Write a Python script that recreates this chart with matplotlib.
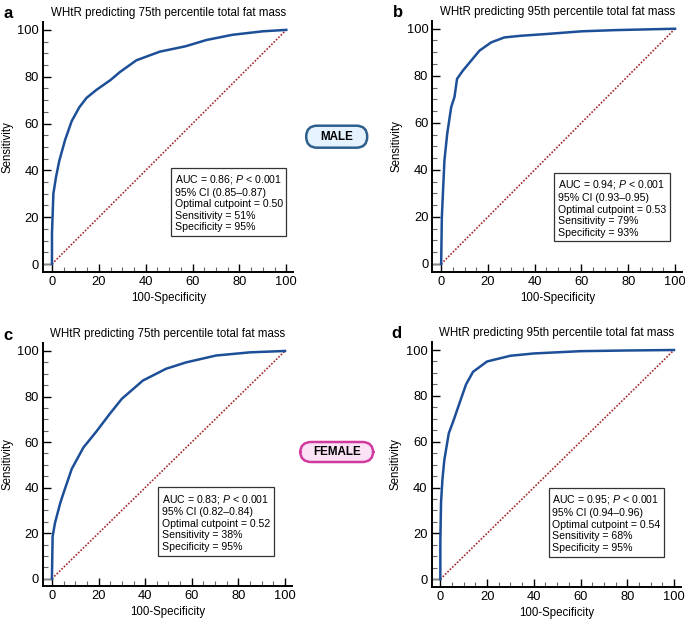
import matplotlib
matplotlib.use("Agg")
import matplotlib.pyplot as plt
from matplotlib.patches import FancyBboxPatch

plt.rcParams["font.family"] = ["Liberation Sans", "DejaVu Sans"]
plt.rcParams["mathtext.fontset"] = "custom"
plt.rcParams["mathtext.rm"] = "Liberation Sans"
plt.rcParams["mathtext.it"] = "Liberation Sans:italic"

# ROC curves: x = 100-Specificity, y = Sensitivity
a_x = [0, 0, 0.6, 1.7, 3.1, 5.6, 8.4, 11.7, 14.8, 19, 25, 29, 36, 46, 57, 66, 77, 90, 100]
a_y = [0, 13, 30, 37, 44, 53, 61, 67, 71, 74.4, 78.6, 82, 87, 90.7, 93, 95.7, 97.9, 99.4, 100]

b_x = [0, 0.3, 1.4, 2.6, 4.3, 5.7, 6.8, 9.3, 12.8, 16.4, 21.4, 27, 34, 45.6, 60, 74, 100]
b_y = [0, 20, 44, 55.4, 66.7, 71, 78.7, 82.2, 86.4, 90.7, 94.2, 96.3, 97, 97.8, 98.9, 99.4, 100]

c_x = [0, 0.3, 1.3, 3.5, 4.9, 8.5, 13.5, 19.2, 24.9, 30, 39, 49, 57.6, 70.4, 85, 100]
c_y = [0, 18.6, 24.4, 33, 37.4, 48.2, 57.6, 64.8, 72.5, 79, 87, 92.2, 95, 98, 99.4, 100]

d_x = [0, 0, 0.3, 0.9, 1.7, 3.6, 5.7, 8.6, 11, 14, 20, 30, 40, 60, 80, 100]
d_y = [0, 16.4, 33.6, 43.6, 52, 63.6, 69.4, 78, 85, 90.5, 95, 97.5, 98.5, 99.5, 99.8, 100]

titles = ["WHtR predicting 75th percentile total fat mass",
          "WHtR predicting 95th percentile total fat mass",
          "WHtR predicting 75th percentile total fat mass",
          "WHtR predicting 95th percentile total fat mass"]
panel_letters = ["a", "b", "c", "d"]
auc = ["0.86", "0.94", "0.83", "0.95"]
ci = ["0.85\u20130.87", "0.93\u20130.95", "0.82\u20130.84", "0.94\u20130.96"]
cutpoint = ["0.50", "0.53", "0.52", "0.54"]
sensitivity = [51, 79, 38, 68]
specificity = [95, 93, 95, 95]

W, H = 685, 624
fig = plt.figure(figsize=(W / 100, H / 100), dpi=100)

# axes boxes in pixels: left, top, right, bottom
boxes = [(43.3, 21.7, 293.3, 271.5), (432.5, 20.5, 682, 271.5),
         (43.3, 343, 292, 586), (431.7, 342, 681, 586.5)]
text_pos = [(50, 40.5), (47.5, 38), (45, 39.4), (45.6, 39)]
curves = [(a_x, a_y), (b_x, b_y), (c_x, c_y), (d_x, d_y)]

for i, (l, t, r, b) in enumerate(boxes):
    ax = fig.add_axes([l / W, 1 - b / H, (r - l) / W, (b - t) / H])
    x, y = curves[i]
    ax.plot([0, 100], [0, 100], color="#a3282c", lw=1.2, ls=(0, (1, 1)))
    ax.plot([-3.7, 0], [0, 0], color="#8a8a8a", lw=1)
    ax.plot(x, y, color="#1d4f98", lw=1.8, solid_joinstyle="round")
    ax.set_xlim(-3.7, 103)
    ax.set_ylim(-3.2, 103.5)
    ax.set_xticks(range(0, 101, 20))
    ax.set_yticks(range(0, 101, 20))
    ax.set_xticks(range(0, 101, 5), minor=True)
    ax.set_yticks(range(0, 101, 5), minor=True)
    ax.tick_params(which="major", direction="in", length=6, width=1, labelsize=9.3, pad=3)
    ax.tick_params(which="minor", direction="in", length=3.5, width=0.8, color="#666666")
    for s in ["top", "right"]:
        ax.spines[s].set_visible(False)
    for s in ["left", "bottom"]:
        ax.spines[s].set_linewidth(1.4)
    ax.set_xlabel("100-Specificity", fontsize=8.3, labelpad=3)
    ax.set_ylabel("Sensitivity", fontsize=8.3, labelpad=3)
    ax.set_title(titles[i], fontsize=8.3, pad=4)
    txt = ("AUC = %s; $P$ < 0.001\n95%% CI (%s)\nOptimal cutpoint = %s\n"
           "Sensitivity = %d%%\nSpecificity = %d%%"
           % (auc[i], ci[i], cutpoint[i], sensitivity[i], specificity[i]))
    tx, ty = text_pos[i]
    ax.text(tx + 2.3, ty - 1.6, txt, fontsize=7.6, va="top", ha="left", linespacing=1.2,
            bbox=dict(boxstyle="square,pad=0.35", fc="white", ec="#333333", lw=0.9))
    fig.text((l - 40) / W, 1 - (t - 8) / H, panel_letters[i], fontsize=12,
             fontweight="bold", va="center", ha="left")

# MALE / FEMALE badges
for label, (cx, cy), (bw, bh), fc, ec in [
        ("MALE", (336.7, 136.7), (61, 22), "#e4f3fd", "#2e5f8c"),
        ("FEMALE", (336.7, 452), (73, 20), "#fbe2f4", "#d13a9f")]:
    patch = FancyBboxPatch(((cx - bw / 2) / W, 1 - (cy + bh / 2) / H),
                           bw / W, bh / H,
                           boxstyle="round,pad=0,rounding_size=0.016",
                           transform=fig.transFigure, fc=fc, ec=ec, lw=1.8,
                           mutation_aspect=W / H)
    fig.patches.append(patch)
    fig.text(cx / W, 1 - cy / H, label, fontsize=8.4, fontweight="bold",
             ha="center", va="center")

fig.savefig("out.png", dpi=100)
